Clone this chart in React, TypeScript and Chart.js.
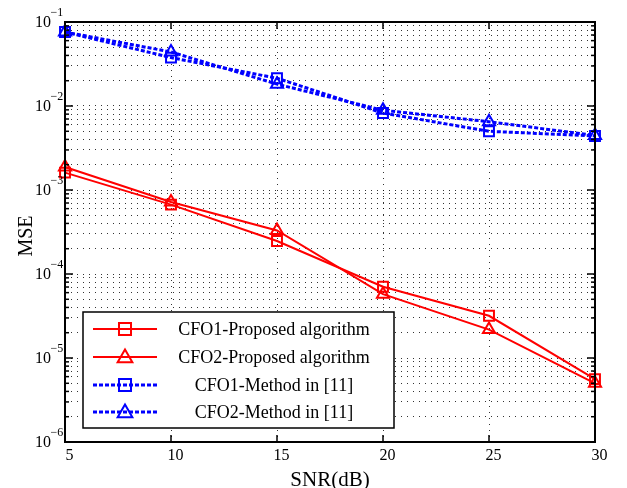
import React, { useEffect, useRef } from 'react';
import { Chart, registerables } from 'chart.js';

Chart.register(...registerables);

// ---- data ----
const snr = [5, 10, 15, 20, 25, 30];
const cfo1Proposed = [1.61e-3, 6.7e-4, 2.47e-4, 7.05e-5, 3.18e-5, 5.6e-6];
const cfo2Proposed = [1.88e-3, 7.2e-4, 3.3e-4, 5.75e-5, 2.18e-5, 5.0e-6];
const cfo1Method = [0.076, 0.0377, 0.0214, 8.25e-3, 5.0e-3, 4.4e-3];
const cfo2Method = [0.076, 0.044, 0.0182, 8.9e-3, 6.5e-3, 4.45e-3];
const seriesLabels = [
  'CFO1-Proposed algorithm',
  'CFO2-Proposed algorithm',
  'CFO1-Method in [11]',
  'CFO2-Method in [11]',
];
const xTicks = [5, 10, 15, 20, 25, 30];
const yExponents = [-6, -5, -4, -3, -2, -1];
const xTitle = 'SNR(dB)';
const yTitle = 'MSE';

const SERIF = '"Liberation Serif", "DejaVu Serif", serif';

function buildYTicks() {
  const out: { value: number; major: boolean }[] = [];
  for (let i = 0; i < yExponents.length - 1; i++) {
    const e = yExponents[i];
    for (let d = 1; d <= 9; d++) {
      out.push({ value: Number((d * Math.pow(10, e)).toPrecision(3)), major: d === 1 });
    }
  }
  out.push({ value: Math.pow(10, yExponents[yExponents.length - 1]), major: true });
  return out;
}

function marker(ctx: CanvasRenderingContext2D, style: string, x: number, y: number, r: number) {
  ctx.beginPath();
  if (style === 'rect') {
    const s = r * Math.SQRT1_2;
    ctx.rect(x - s, y - s, 2 * s, 2 * s);
  } else {
    ctx.moveTo(x, y - r);
    ctx.lineTo(x + 0.866 * r, y + 0.5 * r);
    ctx.lineTo(x - 0.866 * r, y + 0.5 * r);
    ctx.closePath();
  }
  ctx.stroke();
}

const decor = {
  id: 'decor',
  afterDatasetsDraw(chart: any) {
    const { ctx, chartArea: a, scales } = chart;
    const xs = scales.x;
    const ys = scales.y;
    ctx.save();
    ctx.strokeStyle = '#000';
    ctx.lineWidth = 1.5;
    const seg = (x1: number, y1: number, x2: number, y2: number) => {
      ctx.beginPath();
      ctx.moveTo(x1, y1);
      ctx.lineTo(x2, y2);
      ctx.stroke();
    };
    for (const t of ys.ticks) {
      const py = ys.getPixelForValue(t.value);
      const len = t.major ? 8 : 4;
      seg(a.left, py, a.left + len, py);
      seg(a.right, py, a.right - len, py);
    }
    for (const v of xTicks) {
      const px = xs.getPixelForValue(v);
      seg(px, a.bottom, px, a.bottom - 7);
      seg(px, a.top, px, a.top + 7);
    }
    ctx.lineWidth = 2;
    ctx.strokeRect(a.left, a.top, a.right - a.left, a.bottom - a.top);

    ctx.fillStyle = '#000';
    ctx.font = '16px ' + SERIF;
    ctx.textAlign = 'center';
    ctx.textBaseline = 'alphabetic';
    for (const v of xTicks) {
      ctx.fillText(String(v), xs.getPixelForValue(v) + 4.5, 460);
    }
    for (const e of yExponents) {
      const py = ys.getPixelForValue(Math.pow(10, e));
      ctx.font = '16px ' + SERIF;
      ctx.textAlign = 'right';
      ctx.textBaseline = 'middle';
      ctx.fillText('10', 51, py + 1);
      ctx.font = '12px ' + SERIF;
      ctx.textAlign = 'left';
      ctx.fillText('\u2212' + Math.abs(e), 50.5, py - 9);
    }
    ctx.font = '21px ' + SERIF;
    ctx.textAlign = 'center';
    ctx.textBaseline = 'alphabetic';
    ctx.fillText(xTitle, (a.left + a.right) / 2, 486);
    ctx.save();
    ctx.translate(32, (a.top + a.bottom) / 2 + 4);
    ctx.rotate(-Math.PI / 2);
    ctx.font = '20px ' + SERIF;
    ctx.fillText(yTitle, 0, 0);
    ctx.restore();
    ctx.restore();
  },
  afterDraw(chart: any) {
    const { ctx } = chart;
    ctx.save();
    const bx = 83, by = 312, bw = 311, bh = 116;
    ctx.fillStyle = '#fff';
    ctx.fillRect(bx, by, bw, bh);
    ctx.strokeStyle = '#000';
    ctx.lineWidth = 1.5;
    ctx.strokeRect(bx, by, bw, bh);
    const rows = [329, 357, 385, 412];
    chart.data.datasets.forEach((ds: any, i: number) => {
      const ry = rows[i];
      ctx.strokeStyle = ds.borderColor;
      ctx.lineWidth = ds.borderWidth;
      ctx.setLineDash(ds.borderDash || []);
      ctx.beginPath();
      ctx.moveTo(93, ry);
      ctx.lineTo(157, ry);
      ctx.stroke();
      ctx.setLineDash([]);
      ctx.lineWidth = ds.pointBorderWidth;
      ctx.fillStyle = '#fff';
      marker(ctx, ds.pointStyle, 125, ds.pointStyle === 'triangle' ? ry + 1 : ry, 8.5);
      ctx.fillStyle = '#000';
      ctx.font = '18px ' + SERIF;
      ctx.textAlign = 'center';
      ctx.textBaseline = 'middle';
      ctx.fillText(ds.label, 274, ry + 1);
    });
    ctx.restore();
  },
};

export default function App() {
  const ref = useRef<HTMLCanvasElement>(null);
  useEffect(() => {
    document.body.style.margin = '0';
    const red = '#ff0000';
    const blue = '#0000ff';
    const mk = (label: string, data: number[], color: string, style: string, dashed: boolean) => ({
      label,
      data: snr.map((x, i) => ({ x, y: data[i] })),
      borderColor: color,
      backgroundColor: 'transparent',
      borderWidth: dashed ? 3 : 2,
      borderDash: dashed ? [4, 2] : [],
      pointStyle: style,
      pointRadius: 7,
      pointBorderWidth: 2,
      pointBorderColor: color,
      pointBackgroundColor: 'transparent',
      tension: 0,
      clip: false as any,
    });
    const chart = new Chart(ref.current!, {
      type: 'line',
      data: {
        datasets: [
          mk(seriesLabels[0], cfo1Proposed, red, 'rect', false),
          mk(seriesLabels[1], cfo2Proposed, red, 'triangle', false),
          mk(seriesLabels[2], cfo1Method, blue, 'rect', true),
          mk(seriesLabels[3], cfo2Method, blue, 'triangle', true),
        ],
      },
      options: {
        animation: false,
        responsive: false,
        devicePixelRatio: 1,
        layout: { padding: { top: 22, right: 32, left: 0, bottom: 0 } },
        plugins: { legend: { display: false }, tooltip: { enabled: false } },
        scales: {
          x: {
            type: 'linear',
            min: 5,
            max: 30,
            ticks: { stepSize: 5, display: false },
            grid: {
              drawTicks: false,
              lineWidth: 1,
              color: (c: any) =>
                c.tick && (c.tick.value === 5 || c.tick.value === 30) ? 'transparent' : 'rgba(0,0,0,0.8)',
            },
            border: { display: false, dash: [1, 5] },
            afterFit: (s: any) => {
              s.height = 46;
            },
          },
          y: {
            type: 'logarithmic',
            min: 1e-6,
            max: 1e-1,
            ticks: { display: false, autoSkip: false },
            afterBuildTicks: (s: any) => {
              s.ticks = buildYTicks();
            },
            grid: {
              drawTicks: false,
              lineWidth: 1,
              color: 'rgba(0,0,0,0.8)',
            },
            border: { display: false, dash: [1, 5] },
            afterFit: (s: any) => {
              s.width = 65;
            },
          },
        },
      },
      plugins: [decor],
    } as any);
    return () => chart.destroy();
  }, []);
  return <canvas ref={ref} width={627} height={488} style={{ display: 'block' }} />;
}
